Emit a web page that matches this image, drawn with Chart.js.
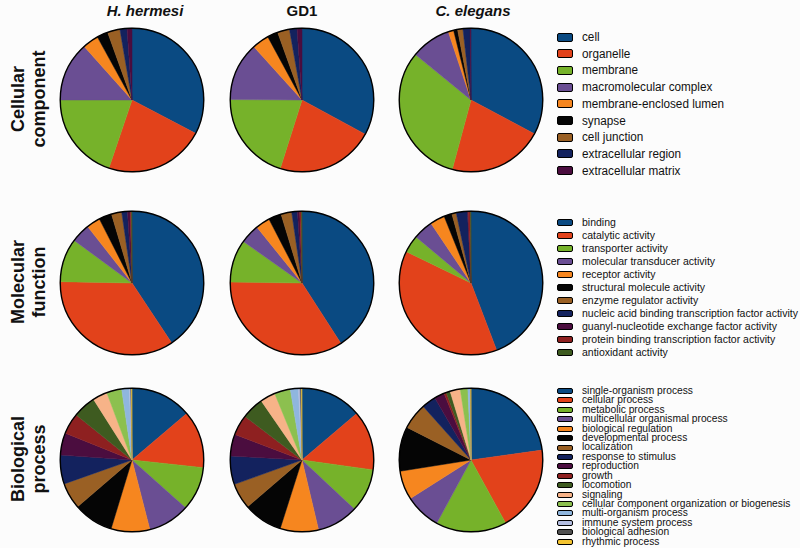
<!DOCTYPE html>
<html>
<head>
<meta charset="utf-8">
<script src="https://cdn.jsdelivr.net/npm/chart.js@4/dist/chart.umd.min.js"></script>
<style>
  html, body { margin: 0; padding: 0; background: #fcfcfc; }
  #wrap { position: relative; width: 800px; height: 548px; overflow: hidden;
    font-family: "Liberation Sans", Arial, sans-serif; color: #111; }
  .pie { position: absolute; width: 150px; height: 150px; }
  .coltitle { position: absolute; top: 2px; font-weight: bold; font-size: 15px;
    transform: translateX(-50%); white-space: nowrap; }
  .rowtitle { position: absolute; font-weight: bold; font-size: 18px; line-height: 21px;
    text-align: center; white-space: nowrap; transform: translate(-50%, -50%) rotate(-90deg); }
  .legend { position: absolute; left: 557px; top: 0; width: 243px; }
  .legend .box { position: absolute; left: 0; width: 16px; border: 1px solid #000; border-radius: 2px; box-sizing: border-box; }
  .legend .txt { position: absolute; left: 25px; white-space: nowrap; transform-origin: 0 50%; }
</style>
</head>
<body>
<div id="wrap"></div>
<script>
const columnTitles = ['H. hermesi', 'GD1', 'C. elegans'];
const rowTitles = [['Cellular', 'component'], ['Molecular', 'function'], ['Biological', 'process']];

const ccLabels = ['cell', 'organelle', 'membrane', 'macromolecular complex', 'membrane-enclosed lumen',
  'synapse', 'cell junction', 'extracellular region', 'extracellular matrix'];
const ccHermesi = [32.7, 22.5, 19.8, 13.4, 3.6, 2.5, 2.8, 1.6, 1.1];
const ccGD1     = [32.9, 22.0, 20.2, 13.2, 3.8, 2.4, 2.7, 1.7, 1.1];
const ccElegans = [32.8, 21.4, 31.7, 9.0, 1.2, 0.9, 1.2, 1.6, 0.2];

const mfLabels = ['binding', 'catalytic activity', 'transporter activity', 'molecular transducer activity',
  'receptor activity', 'structural molecule activity', 'enzyme regulator activity',
  'nucleic acid binding transcription factor activity', 'guanyl-nucleotide exchange factor activity',
  'protein binding transcription factor activity', 'antioxidant activity'];
const mfHermesi = [40.7, 34.6, 9.8, 4.3, 3.1, 2.9, 2.3, 1.3, 0.6, 0.3, 0.1];
const mfGD1     = [40.9, 34.3, 9.6, 4.4, 3.2, 2.9, 2.4, 1.3, 0.5, 0.4, 0.1];
const mfElegans = [44.2, 38.0, 3.9, 4.5, 3.3, 1.8, 1.0, 2.5, 0.2, 0.5, 0.1];

const bpLabels = ['single-organism process', 'cellular process', 'metabolic process',
  'multicellular organismal process', 'biological regulation', 'developmental process', 'localization',
  'response to stimulus', 'reproduction', 'growth', 'locomotion', 'signaling',
  'cellular component organization or biogenesis', 'multi-organism process', 'immune system process',
  'biological adhesion', 'rhythmic process'];
const bpHermesi = [13.8, 12.9, 9.9, 9.4, 8.7, 9.0, 5.9, 6.5, 5.0, 4.7, 5.2, 3.3, 3.4, 1.7, 0.3, 0.2, 0.1];
const bpGD1     = [13.8, 13.4, 9.8, 9.3, 8.6, 8.8, 5.8, 6.4, 4.9, 4.6, 5.0, 3.4, 3.6, 1.8, 0.4, 0.3, 0.1];
const bpElegans = [22.8, 19.2, 15.9, 8.1, 6.5, 10.0, 5.9, 3.2, 2.3, 0.5, 0.9, 2.3, 1.7, 0.5, 0.1, 0.05, 0.05];

// Shared palette (same order as the legends)
const palette = ['#0a4a82', '#e2421b', '#76b22a', '#6a4e93', '#f6861f', '#050505', '#9a6024',
  '#13225e', '#4b0d3f', '#8e2020', '#3e5b20', '#f7b388', '#8cc04f', '#8fb6de', '#b3bde0',
  '#505050', '#f4c430'];

const rows = [
  {labels: ccLabels, series: [ccHermesi, ccGD1, ccElegans]},
  {labels: mfLabels, series: [mfHermesi, mfGD1, mfElegans]},
  {labels: bpLabels, series: [bpHermesi, bpGD1, bpElegans]},
];

const colX = [132, 302, 471];
const rowY = [100, 283, 460];
// fit = [label index, width in px] used to stretch the legend text horizontally
const legendLayout = [
  {top: 37, step: 16.7, font: 12, box: 9, fit: [3, 130]},
  {top: 222, step: 13, font: 10.5, box: 7, fit: [7, 216]},
  {top: 391, step: 9.42, font: 10.2, box: 6, fit: [12, 208]},
];

const wrap = document.getElementById('wrap');

// Black outline round each pie.
const outlinePlugin = {
  id: 'outline',
  afterDatasetsDraw: (chart) => {
    const arc = chart.getDatasetMeta(0).data[0];
    const ctx = chart.ctx;
    ctx.save();
    ctx.beginPath();
    ctx.arc(arc.x, arc.y, arc.outerRadius, 0, Math.PI * 2);
    ctx.lineWidth = 1.4;
    ctx.strokeStyle = '#000';
    ctx.stroke();
    ctx.restore();
  }
};

columnTitles.forEach((t, i) => {
  const d = document.createElement('div');
  d.className = 'coltitle';
  d.textContent = t;
  d.style.left = (i === 0 ? 145 : i === 2 ? 473 : 302) + 'px';
  if (i !== 1) d.style.fontStyle = 'italic';
  wrap.appendChild(d);
});

rowTitles.forEach((lines, r) => {
  const d = document.createElement('div');
  d.className = 'rowtitle';
  d.innerHTML = lines.join('<br>');
  d.style.left = '29px';
  d.style.top = (rowY[r] - 1) + 'px';
  wrap.appendChild(d);
});

rows.forEach((row, r) => {
  const colors = palette.slice(0, row.labels.length);
  row.series.forEach((values, c) => {
    const holder = document.createElement('div');
    holder.className = 'pie';
    holder.style.left = (colX[c] - 75) + 'px';
    holder.style.top = (rowY[r] - 75) + 'px';
    const canvas = document.createElement('canvas');
    canvas.width = 150;
    canvas.height = 150;
    holder.appendChild(canvas);
    wrap.appendChild(holder);

    new Chart(canvas, {
      type: 'pie',
      data: {
        labels: row.labels,
        datasets: [{
          data: values,
          backgroundColor: colors,
          borderColor: colors,
          borderWidth: 0.5,
        }]
      },
      options: {
        responsive: false,
        animation: false,
        devicePixelRatio: 1,
        layout: {padding: 3},
        plugins: {
          legend: {display: false},
          tooltip: {enabled: false}
        }
      },
      plugins: [outlinePlugin]
    });
  });

  // Legend for this row
  const lay = legendLayout[r];
  const lg = document.createElement('div');
  lg.className = 'legend';
  const texts = [];
  row.labels.forEach((label, i) => {
    const y = lay.top + lay.step * i;
    const box = document.createElement('div');
    box.className = 'box';
    box.style.top = (y - lay.box / 2) + 'px';
    box.style.height = lay.box + 'px';
    box.style.background = colors[i];
    const txt = document.createElement('div');
    txt.className = 'txt';
    txt.style.top = (y - lay.font / 2) + 'px';
    txt.style.fontSize = lay.font + 'px';
    txt.style.lineHeight = lay.font + 'px';
    txt.textContent = label;
    lg.appendChild(box);
    lg.appendChild(txt);
    texts.push(txt);
  });
  wrap.appendChild(lg);

  const w = texts[lay.fit[0]].offsetWidth;
  const sx = w > 0 ? lay.fit[1] / w : 1;
  texts.forEach(t => { t.style.transform = 'scaleX(' + sx + ')'; });
});
</script>
</body>
</html>
